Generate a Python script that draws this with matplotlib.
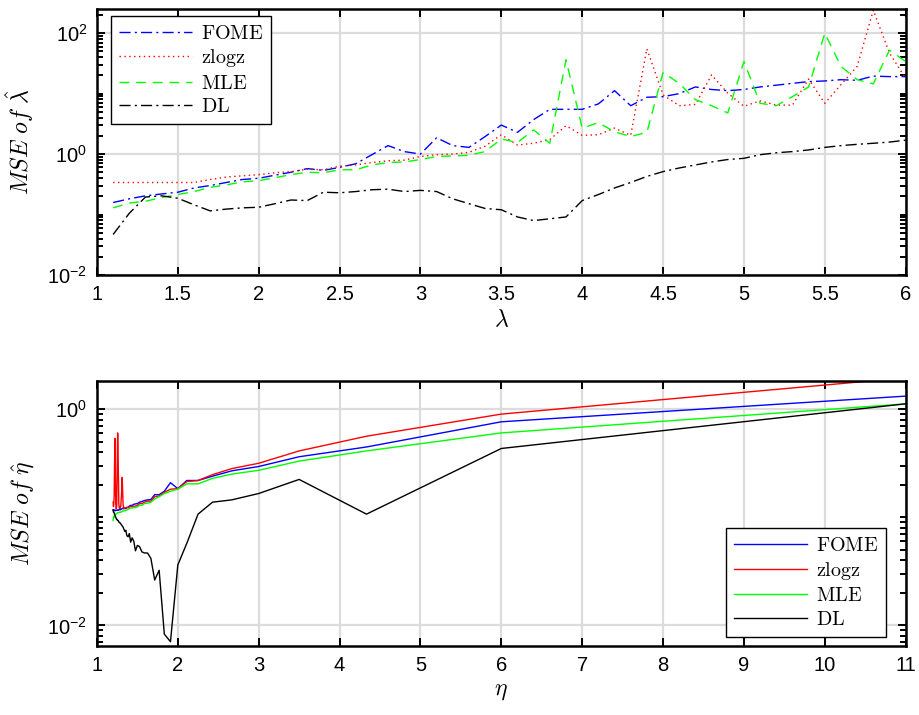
import matplotlib
matplotlib.use("Agg")
import matplotlib.pyplot as plt
from matplotlib.ticker import FixedLocator, LogLocator, NullFormatter

plt.rcParams['font.family'] = ['Liberation Sans', 'DejaVu Sans']
plt.rcParams['mathtext.fontset'] = 'cm'
plt.rcParams['axes.unicode_minus'] = False

# ---- top panel data: MSE of lambda-hat ----
lam = [1.1, 1.2, 1.3, 1.4, 1.5, 1.6, 1.7, 1.8, 1.9, 2.0,
       2.1, 2.2, 2.3, 2.4, 2.5, 2.6, 2.7, 2.8, 2.9, 3.0,
       3.1, 3.2, 3.3, 3.4, 3.5, 3.6, 3.7, 3.8, 3.9, 4.0,
       4.1, 4.2, 4.3, 4.4, 4.5, 4.6, 4.7, 4.8, 4.9, 5.0,
       5.1, 5.2, 5.3, 5.4, 5.5, 5.6, 5.7, 5.8, 5.9, 6.0]

fome_lam = [0.158, 0.182, 0.204, 0.219, 0.234, 0.275, 0.302, 0.339, 0.380, 0.398,
            0.447, 0.501, 0.575, 0.537, 0.603, 0.692, 0.977, 1.38, 1.10, 1.00,
            1.86, 1.38, 1.29, 1.95, 3.02, 2.29, 3.72, 5.50, 5.50, 5.50,
            6.76, 11.2, 6.31, 8.71, 8.91, 10.0, 12.9, 11.7, 11.2, 11.7,
            12.9, 13.8, 14.8, 15.8, 16.2, 17.0, 16.6, 19.5, 19.1, 19.1]

zlogz_lam = [0.339, 0.339, 0.339, 0.339, 0.339, 0.339, 0.380, 0.417, 0.437, 0.457,
             0.490, 0.513, 0.562, 0.550, 0.631, 0.661, 0.724, 0.776, 0.794, 0.912,
             0.977, 1.00, 1.07, 1.35, 2.09, 1.41, 1.51, 1.74, 2.95, 2.04,
             2.09, 2.69, 2.04, 55.0, 9.55, 6.31, 6.61, 20.4, 10.2, 6.17,
             7.59, 6.46, 6.46, 17.4, 6.92, 14.1, 28.2, 240.0, 46.8, 17.8]

mle_lam = [0.129, 0.155, 0.166, 0.191, 0.214, 0.240, 0.282, 0.309, 0.347, 0.363,
           0.407, 0.457, 0.501, 0.490, 0.550, 0.550, 0.661, 0.724, 0.741, 0.813,
           0.912, 0.933, 0.955, 1.10, 1.78, 1.55, 2.51, 1.51, 36.3, 2.69,
           3.31, 2.34, 1.95, 2.29, 22.4, 14.8, 7.94, 6.31, 4.79, 33.9,
           6.92, 6.31, 8.91, 12.9, 100.0, 28.2, 17.0, 14.5, 52.5, 33.9]

dl_lam = [0.0468, 0.105, 0.195, 0.204, 0.186, 0.145, 0.115, 0.123, 0.129, 0.132,
          0.151, 0.174, 0.170, 0.234, 0.229, 0.240, 0.257, 0.263, 0.240, 0.251,
          0.240, 0.182, 0.151, 0.126, 0.120, 0.0912, 0.0794, 0.0851, 0.0912, 0.170,
          0.214, 0.275, 0.339, 0.427, 0.513, 0.589, 0.661, 0.741, 0.813, 0.851,
          0.977, 1.05, 1.10, 1.17, 1.29, 1.38, 1.45, 1.51, 1.58, 1.70]

# ---- bottom panel data: MSE of eta-hat ----
eta = [1.2, 1.204, 1.208, 1.213, 1.217, 1.222, 1.227, 1.233, 1.238, 1.244,
       1.25, 1.256, 1.263, 1.270, 1.278, 1.286, 1.294, 1.303, 1.3125, 1.323,
       1.333, 1.345, 1.357, 1.370, 1.385, 1.4, 1.417, 1.435, 1.455, 1.476,
       1.5, 1.526, 1.556, 1.588, 1.625, 1.667, 1.714, 1.769, 1.833, 1.909,
       2.0, 2.111, 2.25, 2.429, 2.667, 3.0, 3.5, 4.333, 6.0, 11.0]

fome_eta = [0.117, 0.116, 0.115, 0.116, 0.117, 0.116, 0.115, 0.116, 0.117, 0.116,
            0.116, 0.117, 0.116, 0.117, 0.119, 0.117, 0.120, 0.119, 0.120, 0.122,
            0.120, 0.123, 0.120, 0.124, 0.123, 0.127, 0.129, 0.129, 0.132, 0.133,
            0.134, 0.138, 0.140, 0.143, 0.145, 0.146, 0.162, 0.162, 0.174, 0.209,
            0.184, 0.219, 0.219, 0.240, 0.269, 0.295, 0.363, 0.447, 0.764, 1.32]

zlogz_eta = [0.138, 0.126, 0.132, 0.158, 0.282, 0.537, 0.251, 0.132, 0.120, 0.126,
             0.282, 0.603, 0.316, 0.132, 0.120, 0.123, 0.126, 0.158, 0.234, 0.132,
             0.120, 0.123, 0.122, 0.123, 0.123, 0.124, 0.126, 0.126, 0.127, 0.127,
             0.129, 0.134, 0.134, 0.138, 0.141, 0.141, 0.155, 0.158, 0.170, 0.182,
             0.184, 0.214, 0.219, 0.248, 0.282, 0.316, 0.411, 0.562, 0.90, 1.95]

mle_eta = [0.0933, 0.100, 0.102, 0.100, 0.105, 0.106, 0.107, 0.107, 0.108, 0.108,
           0.110, 0.110, 0.110, 0.111, 0.111, 0.112, 0.111, 0.112, 0.114, 0.114,
           0.115, 0.115, 0.116, 0.117, 0.119, 0.120, 0.122, 0.122, 0.123, 0.123,
           0.125, 0.129, 0.129, 0.134, 0.135, 0.138, 0.148, 0.155, 0.166, 0.174,
           0.182, 0.204, 0.204, 0.229, 0.251, 0.272, 0.331, 0.411, 0.603, 1.12]

dl_eta = [0.117, 0.112, 0.112, 0.110, 0.107, 0.105, 0.102, 0.100, 0.0977, 0.0955,
          0.0955, 0.0933, 0.0933, 0.0912, 0.0891, 0.0891, 0.0871, 0.0851, 0.0832, 0.0813,
          0.0776, 0.0741, 0.0759, 0.0676, 0.0661, 0.0708, 0.0589, 0.0646, 0.0603, 0.0490,
          0.0550, 0.0537, 0.0479, 0.0468, 0.0468, 0.0417, 0.0263, 0.0324, 0.00832, 0.00708,
          0.0363, 0.0575, 0.107, 0.138, 0.145, 0.166, 0.224, 0.107, 0.433, 1.12]

names = ['FOME', 'zlogz', 'MLE', 'DL']
colors = ['#0000ff', '#ff0000', '#00ff00', '#000000']

fig = plt.figure(figsize=(9.19, 7.15), dpi=100)
ax1 = fig.add_axes([0.1055, 0.6154, 0.880, 0.372])
ax2 = fig.add_axes([0.1055, 0.0965, 0.880, 0.3706])

# top: MATLAB-like line styles
styles = [(0, (8, 3, 1.5, 3)), (0, (1, 2.5)), (0, (7, 5)), (0, (8, 3, 1.5, 3))]
for ys, name, c, ls in zip([fome_lam, zlogz_lam, mle_lam, dl_lam], names, colors, styles):
    ax1.plot(lam, ys, color=c, ls=ls, lw=1.0, label=r'$\mathrm{%s}$' % name)

for ys, name, c in zip([fome_eta, zlogz_eta, mle_eta, dl_eta], names, colors):
    ax2.plot(eta, ys, color=c, ls='-', lw=1.0, label=r'$\mathrm{%s}$' % name)

ax1.set_xlim(1, 6)
ax1.set_ylim(1e-2, 251)
ax1.set_xticks([1, 1.5, 2, 2.5, 3, 3.5, 4, 4.5, 5, 5.5, 6])
ax1.set_xticklabels(['1', '1.5', '2', '2.5', '3', '3.5', '4', '4.5', '5', '5.5', '6'])

ax2.set_xlim(1, 11)
ax2.set_ylim(0.00646, 1.82)
ax2.set_xticks(range(1, 12))

for ax, majors in [(ax1, [1e-2, 1, 1e2]), (ax2, [1e-2, 1])]:
    ax.set_yscale('log')
    ax.yaxis.set_major_locator(FixedLocator(majors))
    ax.yaxis.set_minor_locator(LogLocator(base=10, subs=range(1, 10), numticks=50))
    ax.yaxis.set_minor_formatter(NullFormatter())
    ax.grid(True, which='major', color='#dcdcdc', lw=1.6)
    ax.set_axisbelow(True)
    ax.tick_params(which='both', direction='in', top=True, right=True,
                   labelsize=14.5, width=1.4, pad=7)
    ax.tick_params(which='major', length=6)
    ax.tick_params(which='minor', length=4.5)
    for sp in ax.spines.values():
        sp.set_linewidth(1.8)

ax1.set_xlabel(r'$\lambda$', fontsize=17, labelpad=4)
ax1.set_ylabel(r'$MSE\ of\ \hat{\lambda}$', fontsize=17, labelpad=8)
ax2.set_xlabel(r'$\eta$', fontsize=17, labelpad=4)
ax2.set_ylabel(r'$MSE\ of\ \hat{\eta}$', fontsize=17, labelpad=8)

leg_kw = dict(fontsize=14.5, handlelength=3.6, fancybox=False, framealpha=1,
              edgecolor='black', borderaxespad=0, labelspacing=0.22,
              handletextpad=0.45, borderpad=0.4)
l1 = ax1.legend(loc='upper left', bbox_to_anchor=(0.0173, 0.974), **leg_kw)
l2 = ax2.legend(loc='lower right', bbox_to_anchor=(0.976, 0.035), **leg_kw)
for lg in (l1, l2):
    lg.get_frame().set_linewidth(1.0)

fig.savefig('out.png', dpi=100)
